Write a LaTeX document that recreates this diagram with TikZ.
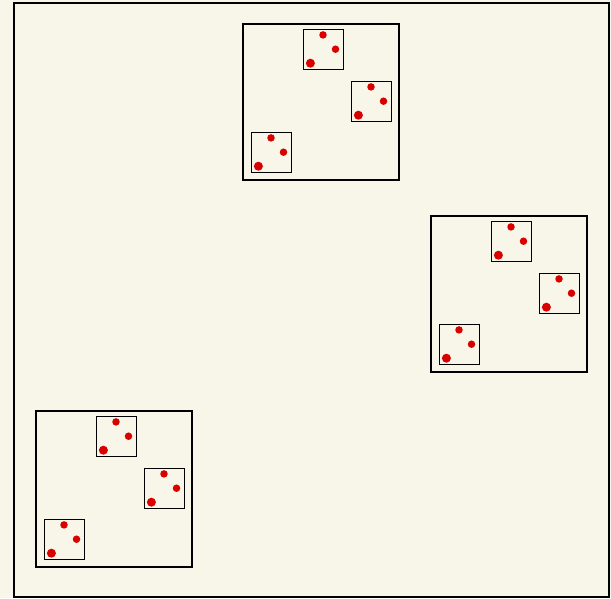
\documentclass[tikz,border=0pt]{standalone}
\definecolor{bg}{RGB}{248,245,233}
\definecolor{dotred}{RGB}{217,0,0}
\tikzset{
  outerbox/.style={draw=black,line width=2pt,inner sep=0pt,outer sep=0pt,anchor=north west,minimum width=595pt,minimum height=594pt},
  medbox/.style={draw=black,line width=2pt,inner sep=0pt,outer sep=0pt,anchor=north west,minimum width=156pt,minimum height=156pt},
  smallbox/.style={draw=black,line width=1pt,inner sep=0pt,outer sep=0pt,anchor=north west,minimum width=40pt,minimum height=40pt},
  dot/.style={circle,fill=dotred,inner sep=0pt,outer sep=0pt,minimum size=7.5pt},
  bigdot/.style={circle,fill=dotred,inner sep=0pt,outer sep=0pt,minimum size=9pt}
}
\newcommand\SmallSq[3]{%
  \node[smallbox] (#1) at (#2,#3) {};
  \node[dot] (#1a) at ($(#2,#3)+(19.5,5.4)$) {};
  \node[dot] (#1b) at ($(#2,#3)+(32,19.7)$) {};
  \node[bigdot] (#1c) at ($(#2,#3)+(6.9,33.7)$) {};
}
\newcommand\MedSq[3]{%
  \node[medbox] (#1) at (#2,#3) {};
  \SmallSq{#1s1}{#2+61}{#3+6}
  \SmallSq{#1s2}{#2+109}{#3+58}
  \SmallSq{#1s3}{#2+9}{#3+109}
}
\usetikzlibrary{calc}
\begin{document}
\begin{tikzpicture}[x=1pt,y=-1pt]
\fill[bg] (0,0) rectangle (611,598);
\useasboundingbox (0,0) rectangle (611,598);
\node[outerbox] (outer) at (13.5,2.5) {};
\MedSq{mt}{242.5}{23.5}
\MedSq{mr}{430.5}{215.5}
\MedSq{ml}{35.5}{410.5}
\end{tikzpicture}
\end{document}
